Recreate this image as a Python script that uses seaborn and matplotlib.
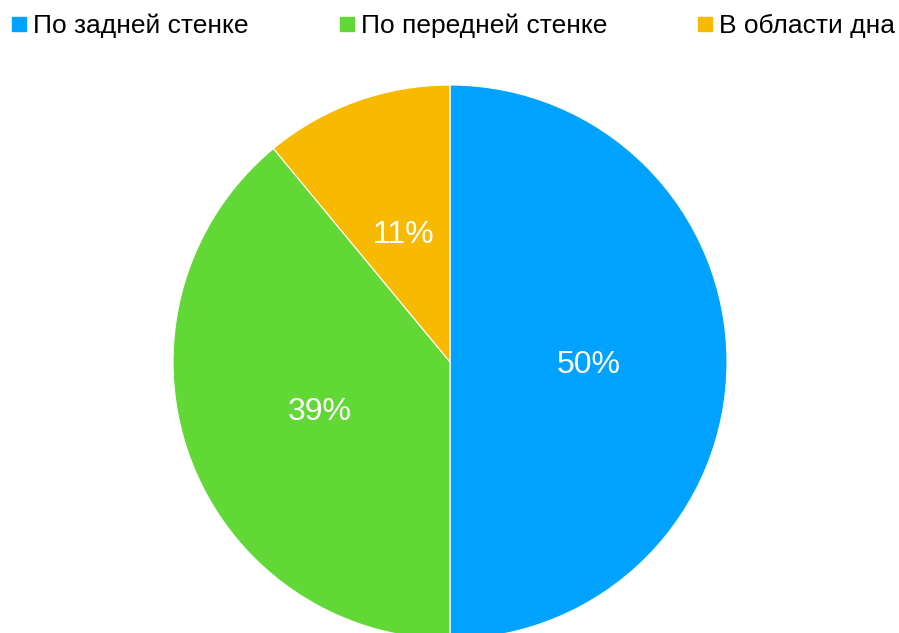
import matplotlib
matplotlib.use("Agg")
import matplotlib.pyplot as plt
from matplotlib.lines import Line2D
import seaborn as sns

# Localisation of the finding
categories = ["По задней стенке", "По передней стенке", "В области дна"]
shares = [50, 39, 11]
colors = ["#00A2FF", "#62D837", "#F8BA00"]

sns.set_theme(style="white")
plt.rcParams["font.family"] = ["Liberation Sans", "DejaVu Sans"]
plt.rcParams["text.color"] = "black"

W, H = 899, 633
fig = plt.figure(figsize=(W / 100, H / 100), dpi=100)
fig.patch.set_facecolor("white")

cx, cy, r = 450, 362, 277
ax = fig.add_axes([(cx - r) / W, (H - cy - r) / H, 2 * r / W, 2 * r / H])

wedges, texts, autotexts = ax.pie(
    shares,
    colors=colors,
    startangle=90,
    counterclock=False,
    autopct=lambda p: f"{p:.0f}%",
    pctdistance=0.5,
    wedgeprops=dict(edgecolor="white", linewidth=0.8),
    textprops=dict(color="white", fontsize=23),
)
# centre the digits optically rather than on the full text box
for t in autotexts:
    x, y = t.get_position()
    t.set_position((x, y - 0.011))

ax.set_xlim(-1, 1)
ax.set_ylim(-1, 1)
ax.set_aspect("equal")
ax.axis("off")

handles = [
    Line2D([], [], marker="s", linestyle="none", markersize=10.5,
           markerfacecolor=c, markeredgecolor=c)
    for c in colors
]
fig.legend(
    handles, categories,
    loc="upper left",
    bbox_to_anchor=(12 / W, 1 - 14 / H),
    ncol=3,
    frameon=False,
    fontsize=19,
    labelcolor="black",
    handlelength=0.55,
    handletextpad=0.25,
    columnspacing=3.45,
    borderpad=0,
    borderaxespad=0,
)

fig.savefig("out.png", dpi=100, facecolor="white")
